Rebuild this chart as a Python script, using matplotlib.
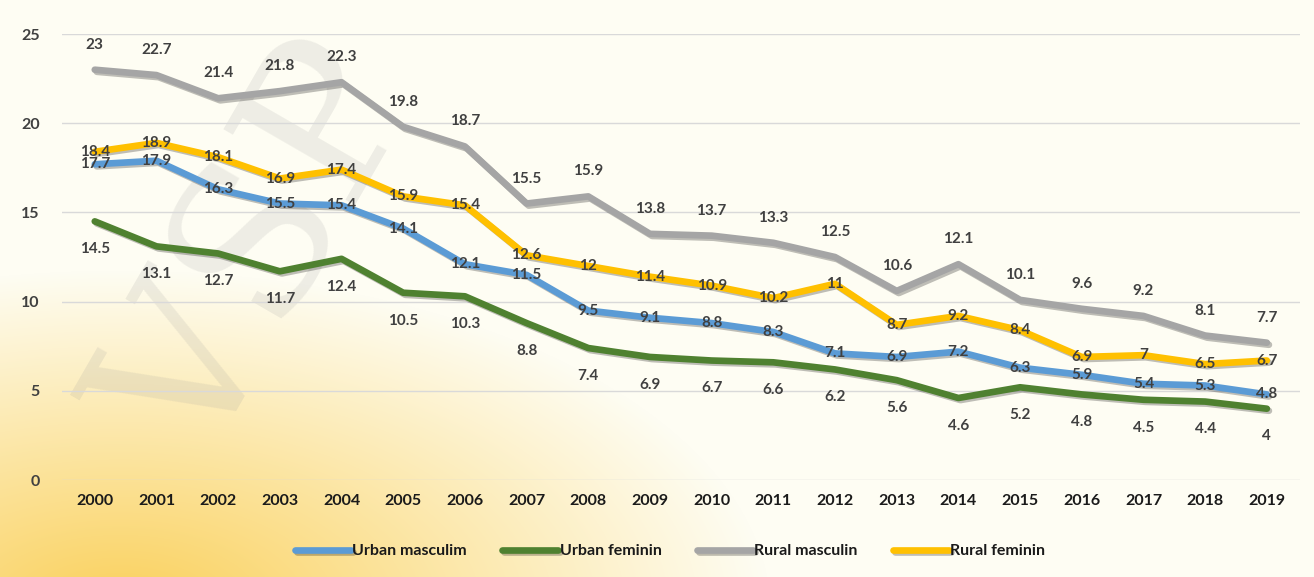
import numpy as np
import matplotlib
matplotlib.use("Agg")
import matplotlib.pyplot as plt
import matplotlib.patheffects as pe

# data
years = [str(y) for y in range(2000, 2020)]
urban_masc = [17.7, 17.9, 16.3, 15.5, 15.4, 14.1, 12.1, 11.5, 9.5, 9.1,
              8.8, 8.3, 7.1, 6.9, 7.2, 6.3, 5.9, 5.4, 5.3, 4.8]
urban_fem = [14.5, 13.1, 12.7, 11.7, 12.4, 10.5, 10.3, 8.8, 7.4, 6.9,
             6.7, 6.6, 6.2, 5.6, 4.6, 5.2, 4.8, 4.5, 4.4, 4.0]
rural_masc = [23, 22.7, 21.4, 21.8, 22.3, 19.8, 18.7, 15.5, 15.9, 13.8,
              13.7, 13.3, 12.5, 10.6, 12.1, 10.1, 9.6, 9.2, 8.1, 7.7]
rural_fem = [18.4, 18.9, 18.1, 16.9, 17.4, 15.9, 15.4, 12.6, 12.0, 11.4,
             10.9, 10.2, 11.0, 8.7, 9.2, 8.4, 6.9, 7.0, 6.5, 6.7]

series = [
    ("Urban masculim", urban_masc, "#5B9BD5", 0),
    ("Urban feminin", urban_fem, "#4F8130", -20),
    ("Rural masculin", rural_masc, "#A5A5A5", 18),
    ("Rural feminin", rural_fem, "#FFC000", 0),
]

plt.rcParams['font.family'] = ['Lato', 'DejaVu Sans']

fig = plt.figure(figsize=(13.14, 5.77), dpi=100)

# background with yellow glow at bottom-left
bg = fig.add_axes([0, 0, 1, 1], zorder=-2)
h, w = 577, 1314
yy, xx = np.mgrid[0:h, 0:w]
d = np.sqrt(((xx - 120) / 650.0) ** 2 + ((yy - 610) / 340.0) ** 2)
a = np.clip(1 - d, 0, 1) ** 1.0
cream = np.array([254, 253, 243]) / 255.0
yellow = np.array([250, 208, 90]) / 255.0
img = cream[None, None, :] * (1 - a[..., None]) + yellow[None, None, :] * a[..., None]
bg.imshow(img, aspect='auto', extent=[0, 1, 0, 1], origin='upper')
bg.axis('off')
# watermark
bg.text(0.2, 0.56, "VSP", rotation=60, fontsize=150, color="#9a9a9a", alpha=0.16,
        ha='center', va='center', family='DejaVu Serif', transform=bg.transAxes)

ax = fig.add_axes([0.047, 0.168, 0.942, 0.773])
ax.set_facecolor('none')
x = np.arange(len(years))

for name, vals, col, off in series:
    ax.plot(x, vals, color=col, lw=4.8, label=name, solid_joinstyle='round',
            solid_capstyle='round',
            path_effects=[pe.SimpleLineShadow(offset=(1.5, -1.5), alpha=0.25, shadow_color='black'),
                          pe.Normal()])
    for xi, v in zip(x, vals):
        ax.annotate(f"{v:g}", (xi, v), xytext=(0, off), textcoords='offset points',
                    ha='center', va='center', fontsize=11, fontweight='bold',
                    color='#404040')

ax.set_xlim(-0.535, 19.53)
ax.set_ylim(0, 25)
ax.set_yticks([0, 5, 10, 15, 20, 25])
ax.set_xticks(x)
ax.set_xticklabels(years, fontsize=11.5, fontweight='bold', color='#1a1a1a')
ax.tick_params(axis='y', labelsize=11.5, labelcolor='#404040', length=0, pad=16)
ax.tick_params(axis='x', length=0, pad=10)
for lbl in ax.get_yticklabels():
    lbl.set_fontweight('bold')
ax.grid(axis='y', color='#d9d9d9', lw=1)
ax.set_axisbelow(True)
for s in ax.spines.values():
    s.set_visible(False)

leg = fig.legend(loc='center', bbox_to_anchor=(0.51, 0.045), ncol=4, frameon=False,
                 fontsize=11.5, handlelength=3.5, handletextpad=0.1, columnspacing=2.2)
for t in leg.get_texts():
    t.set_fontweight('bold')
    t.set_color('#1a1a1a')

fig.savefig("out.png", dpi=100)
